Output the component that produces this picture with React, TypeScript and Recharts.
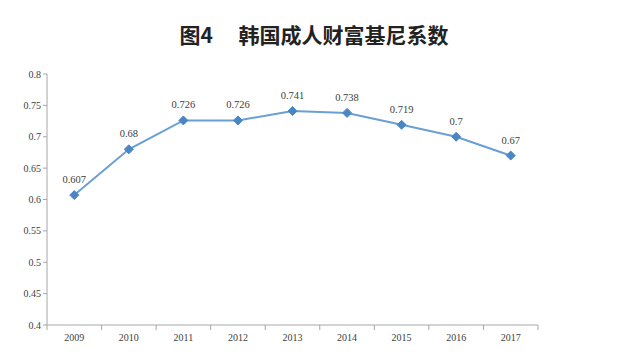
import React from 'react';
import { LineChart, Line, XAxis, YAxis, LabelList } from 'recharts';

const years = ['2009', '2010', '2011', '2012', '2013', '2014', '2015', '2016', '2017'];
const gini = [0.607, 0.68, 0.726, 0.726, 0.741, 0.738, 0.719, 0.7, 0.67];
const yTicks = [0.4, 0.45, 0.5, 0.55, 0.6, 0.65, 0.7, 0.75, 0.8];

const data = years.map((y, i) => ({ year: y, value: gini[i] }));

const W = 640;
const H = 362;
const BAND = 491 / years.length;
const SERIF = 'Liberation Serif, Times New Roman, serif';

function Diamond(props: any) {
  const { cx, cy } = props;
  if (cx == null || cy == null) return null;
  const r = 4.5;
  return (
    <polygon
      points={`${cx},${cy - r} ${cx + r},${cy} ${cx},${cy + r} ${cx - r},${cy}`}
      fill="#4a86c5"
      stroke="#4a86c5"
    />
  );
}

function XTick(props: any) {
  const { x, y, payload, index } = props;
  const last = index === years.length - 1;
  return (
    <g>
      <line x1={x - BAND / 2} y1={y - 8} x2={x - BAND / 2} y2={y - 3} stroke="#a6a6a6" />
      {last && <line x1={x + BAND / 2} y1={y - 8} x2={x + BAND / 2} y2={y - 3} stroke="#a6a6a6" />}
      <text x={x} y={y + 8} textAnchor="middle" fontSize={10} fill="#404040" style={{ fontFamily: SERIF }}>
        {payload.value}
      </text>
    </g>
  );
}

function YTick(props: any) {
  const { x, y, payload } = props;
  return (
    <text x={x} y={y + 3.5} textAnchor="end" fontSize={10} fill="#404040" style={{ fontFamily: SERIF }}>
      {payload.value}
    </text>
  );
}

export default function App() {
  return (
    <div style={{ position: 'absolute', left: 0, top: 0, width: W, height: H, background: '#fff' }}>
      <div
        style={{
          position: 'absolute',
          left: 0,
          width: 628,
          top: 19,
          textAlign: 'center',
          fontFamily: '"Noto Sans CJK SC"',
          fontWeight: 700,
          fontSize: 21,
          color: '#222',
          whiteSpace: 'pre',
        }}
      >
        {'图4　 韩国成人财富基尼系数'}
      </div>
      <LineChart
        width={W}
        height={H}
        data={data}
        margin={{ top: 74, right: 102, left: 7, bottom: 7 }}
      >
        <XAxis
          dataKey="year"
          axisLine={{ stroke: '#a6a6a6' }}
          tickLine={false}
          tick={<XTick />}
          height={30}
          interval={0}
          padding={{ left: BAND / 2, right: BAND / 2 }}
        />
        <YAxis
          domain={[0.4, 0.8]}
          ticks={yTicks}
          width={40}
          axisLine={{ stroke: '#a6a6a6' }}
          tickLine={{ stroke: '#a6a6a6' }}
          tickSize={4}
          tick={<YTick />}
        />
        <Line
          type="linear"
          dataKey="value"
          stroke="#6a9fd4"
          strokeWidth={2}
          dot={<Diamond />}
          activeDot={false}
          isAnimationActive={false}
        >
          <LabelList
            dataKey="value"
            position="top"
            offset={12}
            style={{ fontSize: 10.5, fill: '#404040', fontFamily: SERIF }}
          />
        </Line>
      </LineChart>
    </div>
  );
}
